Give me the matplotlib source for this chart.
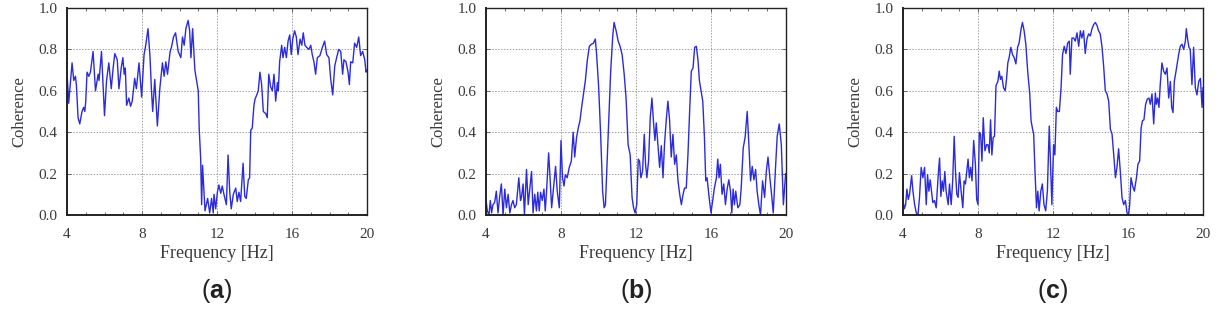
import numpy as np
import matplotlib
matplotlib.use('Agg')
import matplotlib.pyplot as plt
from matplotlib.ticker import MultipleLocator

# coherence curves (frequency in Hz, coherence)
freq_a = [4.0, 4.09, 4.27, 4.36, 4.45, 4.5, 4.59, 4.68, 4.8, 4.89, 4.95, 5.0, 5.07, 5.16, 5.25, 5.39,
          5.52, 5.66, 5.71, 5.84, 5.93, 6.0, 6.11, 6.23, 6.36, 6.46, 6.55, 6.68, 6.77, 6.89, 6.98, 7.05,
          7.11, 7.18, 7.3, 7.39, 7.48, 7.61, 7.7, 7.84, 7.98, 8.11, 8.2, 8.32, 8.43, 8.5, 8.57, 8.68,
          8.82, 8.95, 9.09, 9.18, 9.27, 9.36, 9.5, 9.57, 9.68, 9.79, 9.93, 10.07, 10.16, 10.25, 10.34,
          10.46, 10.54, 10.61, 10.7, 10.82, 10.91, 11.0, 11.05, 11.13, 11.18, 11.23, 11.36, 11.5, 11.61,
          11.71, 11.8,
          11.84, 11.93, 12.02, 12.1, 12.2, 12.28, 12.37, 12.5, 12.59, 12.68, 12.76, 12.87, 13.0, 13.08,
          13.17, 13.26, 13.39, 13.48, 13.56, 13.67, 13.74, 13.8, 13.88, 13.97, 14.03, 14.12, 14.2, 14.29,
          14.38, 14.47, 14.6, 14.68, 14.76, 14.86, 14.95, 15.04, 15.13, 15.22, 15.27, 15.34, 15.45, 15.52,
          15.61, 15.7, 15.79, 15.88, 15.96, 16.04, 16.14, 16.23, 16.32, 16.43, 16.52, 16.6, 16.69, 16.78,
          16.9, 17.0, 17.08, 17.17, 17.26, 17.35, 17.49, 17.62, 17.74, 17.85, 17.97, 18.06, 18.17, 18.28,
          18.38, 18.49, 18.6, 18.7, 18.77, 18.88, 18.99, 19.06, 19.13, 19.24, 19.34, 19.45, 19.56, 19.66,
          19.77, 19.88, 19.95, 20.0]
coh_a = [0.69, 0.54, 0.735, 0.65, 0.67, 0.63, 0.47, 0.44, 0.5, 0.52, 0.5, 0.55, 0.69, 0.67, 0.69, 0.79,
         0.6, 0.68, 0.65, 0.79, 0.61, 0.48, 0.65, 0.735, 0.61, 0.71, 0.78, 0.75, 0.61, 0.71, 0.76, 0.68,
         0.71, 0.53, 0.565, 0.525, 0.55, 0.66, 0.61, 0.735, 0.57, 0.775, 0.82, 0.9, 0.76, 0.61, 0.5, 0.655,
         0.43, 0.61, 0.735, 0.67, 0.74, 0.68, 0.79, 0.81, 0.86, 0.88, 0.79, 0.76, 0.86, 0.82, 0.9,
         0.94, 0.89, 0.76, 0.9, 0.7, 0.65, 0.6, 0.42, 0.27, 0.05, 0.24, 0.02, 0.08, 0.01,
         0.08, 0.01,
         0.1, 0.03, 0.11, 0.145, 0.105, 0.14, 0.1, 0.05, 0.29, 0.11, 0.03, 0.1, 0.13, 0.065,
         0.11, 0.065, 0.25, 0.09, 0.08, 0.17, 0.18, 0.41, 0.42, 0.53, 0.56, 0.58, 0.6, 0.69,
         0.63, 0.5, 0.49, 0.47, 0.68, 0.62, 0.6, 0.68, 0.55, 0.64, 0.6, 0.74, 0.82, 0.76,
         0.81, 0.76, 0.84, 0.87, 0.775, 0.85, 0.89, 0.86, 0.775, 0.85, 0.82, 0.88, 0.82, 0.81,
         0.8, 0.82, 0.775, 0.74, 0.68, 0.76, 0.77, 0.81, 0.84, 0.775, 0.76, 0.66, 0.58, 0.72,
         0.76, 0.8, 0.79, 0.68, 0.75, 0.74, 0.69, 0.63, 0.74, 0.735, 0.83, 0.81, 0.86, 0.77,
         0.79, 0.75, 0.69, 0.7]

freq_b = [4.0, 4.07, 4.16, 4.23, 4.3, 4.37, 4.46, 4.55, 4.64, 4.73, 4.82, 4.91, 5.0, 5.09, 5.18, 5.27,
          5.36, 5.44, 5.53, 5.62, 5.75, 5.84, 5.89, 5.98, 6.05, 6.16, 6.25, 6.34, 6.43, 6.51, 6.6, 6.69,
          6.76, 6.84, 6.91, 7.0, 7.09, 7.16, 7.23, 7.34, 7.41, 7.5, 7.62, 7.71, 7.8, 7.91, 8.0, 8.08,
          8.16, 8.23, 8.33, 8.44, 8.55, 8.65, 8.73, 8.83, 8.92, 9.01, 9.1, 9.19, 9.3, 9.4, 9.51, 9.62,
          9.73, 9.83, 9.9, 10.01, 10.12, 10.22, 10.3, 10.37, 10.44, 10.55, 10.65, 10.76, 10.83, 10.94,
          11.05, 11.15, 11.26, 11.37, 11.47, 11.58, 11.69, 11.79,
          11.87, 11.95, 12.04, 12.12, 12.19, 12.26, 12.35, 12.44, 12.51, 12.58, 12.67, 12.76, 12.85, 12.94,
          13.01, 13.08, 13.17, 13.26, 13.35, 13.44, 13.52, 13.61, 13.7, 13.79, 13.88, 13.97, 14.06, 14.15,
          14.24, 14.33, 14.42, 14.51, 14.59, 14.68, 14.77, 14.86, 14.95, 15.04, 15.13, 15.22, 15.31, 15.38,
          15.47, 15.56, 15.65, 15.72, 15.79, 15.9, 16.0, 16.09, 16.18, 16.29, 16.36, 16.43, 16.5, 16.59,
          16.68, 16.77, 16.86, 16.95, 17.04, 17.11, 17.18, 17.25, 17.32, 17.43, 17.54, 17.61, 17.72, 17.82,
          17.93, 18.02, 18.11, 18.2, 18.29, 18.38, 18.46, 18.55, 18.64, 18.75, 18.86, 18.95, 19.04, 19.14,
          19.23, 19.32, 19.43, 19.53, 19.64, 19.75, 19.86, 19.98]
coh_b = [0.075, 0.02, 0.0, 0.07, 0.01, 0.05, 0.06, 0.115, 0.01, 0.09, 0.15, 0.0, 0.125, 0.035, 0.1, 0.01,
         0.05, 0.07, 0.035, 0.05, 0.18, 0.07, 0.085, 0.15, 0.0, 0.22, 0.05, 0.13, 0.21, 0.01, 0.1, 0.02,
         0.11, 0.02, 0.11, 0.07, 0.125, 0.02, 0.115, 0.3, 0.19, 0.035, 0.15, 0.235, 0.115, 0.035, 0.36, 0.18,
         0.14, 0.195, 0.18, 0.23, 0.26, 0.4, 0.28, 0.375, 0.42, 0.455, 0.52, 0.58, 0.65, 0.745, 0.815, 0.825,
         0.83, 0.85, 0.775, 0.615, 0.375, 0.115, 0.035, 0.05, 0.21, 0.47, 0.695, 0.865, 0.93, 0.89,
         0.84, 0.815, 0.775, 0.68, 0.565, 0.34, 0.29, 0.085,
         0.035, 0.01, 0.05, 0.27, 0.26, 0.18, 0.21, 0.39, 0.245, 0.18, 0.26, 0.47, 0.565, 0.44,
         0.36, 0.445, 0.34, 0.23, 0.335, 0.18, 0.34, 0.455, 0.55, 0.46, 0.28, 0.39, 0.245, 0.29,
         0.165, 0.1, 0.05, 0.1, 0.13, 0.13, 0.29, 0.5, 0.695, 0.71, 0.81, 0.815, 0.745, 0.65,
         0.6, 0.55, 0.375, 0.165, 0.18, 0.085, 0.01, 0.07, 0.13, 0.18, 0.27, 0.18, 0.245, 0.1,
         0.15, 0.05, 0.125, 0.17, 0.115, 0.01, 0.125, 0.05, 0.115, 0.035, 0.05, 0.13, 0.325, 0.375,
         0.5, 0.34, 0.165, 0.235, 0.17, 0.22, 0.115, 0.05, 0.0, 0.165, 0.085, 0.21, 0.28, 0.18,
         0.1, 0.01, 0.21, 0.38, 0.44, 0.34, 0.05, 0.2]

freq_c = [4.0, 4.07, 4.14, 4.21, 4.28, 4.35, 4.46, 4.53, 4.62, 4.71, 4.8, 4.88, 4.97, 5.06, 5.15, 5.24,
          5.31, 5.38, 5.45, 5.52, 5.59, 5.68, 5.77, 5.88, 5.95, 6.02, 6.09, 6.16, 6.23, 6.3, 6.41, 6.48,
          6.57, 6.65, 6.73, 6.8, 6.87, 6.94, 7.01, 7.1, 7.19, 7.26, 7.33, 7.4, 7.47, 7.54, 7.61, 7.68,
          7.77, 7.86, 7.93, 8.0, 8.07, 8.14, 8.21, 8.28, 8.37, 8.46, 8.53, 8.6, 8.67, 8.74, 8.81, 8.88,
          8.96, 9.06, 9.13, 9.2, 9.27, 9.36, 9.45, 9.52, 9.59, 9.66, 9.75, 9.84, 9.93, 10.02, 10.11, 10.19,
          10.3, 10.37, 10.46, 10.55, 10.65, 10.76, 10.83, 10.9, 10.97, 11.04, 11.12, 11.19, 11.26, 11.35,
          11.43, 11.52, 11.61, 11.7, 11.8, 11.94,
          12.03, 12.1, 12.18, 12.25, 12.34, 12.43, 12.51, 12.6, 12.69, 12.78, 12.87, 12.92, 13.01, 13.1,
          13.19, 13.28, 13.37, 13.46, 13.54, 13.63, 13.72, 13.81, 13.9, 13.99, 14.08, 14.17, 14.26, 14.35,
          14.43, 14.52, 14.61, 14.7, 14.79, 14.88, 14.97, 15.06, 15.15, 15.24, 15.33, 15.41, 15.5, 15.59,
          15.68, 15.77, 15.86, 15.95, 16.03, 16.09, 16.16, 16.25, 16.34, 16.45, 16.53, 16.62, 16.7, 16.77,
          16.85, 16.94, 17.03, 17.12, 17.19, 17.28, 17.37, 17.46, 17.51, 17.58, 17.65, 17.72, 17.81, 17.9,
          17.99, 18.08, 18.17, 18.26, 18.33, 18.4, 18.47, 18.58, 18.7, 18.79, 18.88, 18.97, 19.06, 19.11,
          19.18, 19.25, 19.32, 19.41, 19.5, 19.59, 19.68, 19.77, 19.86, 19.95, 20.0]
coh_c = [0.07, 0.03, 0.05, 0.125, 0.075, 0.1, 0.19, 0.115, 0.05, 0.01, 0.0, 0.085, 0.23, 0.18, 0.23, 0.05,
         0.195, 0.115, 0.17, 0.115, 0.06, 0.07, 0.035, 0.195, 0.275, 0.09, 0.165, 0.115, 0.21, 0.115, 0.05, 0.15,
         0.05, 0.165, 0.38, 0.21, 0.1, 0.085, 0.205, 0.115, 0.035, 0.165, 0.15, 0.21, 0.27, 0.18, 0.23, 0.165,
         0.36, 0.245, 0.075, 0.05, 0.4, 0.39, 0.26, 0.47, 0.31, 0.34, 0.34, 0.3, 0.46, 0.29, 0.375, 0.38,
         0.625, 0.645, 0.695, 0.655, 0.67, 0.615, 0.6, 0.655, 0.735, 0.76, 0.81, 0.775, 0.76, 0.73, 0.81, 0.83,
         0.9, 0.93, 0.89, 0.825, 0.695, 0.585, 0.455, 0.42, 0.39, 0.21, 0.035, 0.115, 0.02, 0.115,
         0.15, 0.05, 0.02, 0.115, 0.43, 0.05,
         0.34, 0.29, 0.52, 0.5, 0.5, 0.615, 0.775, 0.815, 0.78, 0.83, 0.84, 0.68, 0.855, 0.855,
         0.84, 0.88, 0.815, 0.89, 0.855, 0.89, 0.78, 0.85, 0.875, 0.865, 0.9, 0.92, 0.93, 0.915,
         0.89, 0.875, 0.815, 0.72, 0.6, 0.585, 0.55, 0.415, 0.39, 0.29, 0.18, 0.23, 0.32, 0.21,
         0.085, 0.05, 0.07, 0.01, 0.0, 0.05, 0.18, 0.14, 0.115, 0.18, 0.245, 0.26, 0.42, 0.455,
         0.46, 0.535, 0.56, 0.565, 0.535, 0.585, 0.44, 0.59, 0.535, 0.565, 0.52, 0.63, 0.735, 0.695,
         0.68, 0.71, 0.565, 0.645, 0.52, 0.495, 0.645, 0.705, 0.775, 0.815, 0.825, 0.8, 0.84, 0.9,
         0.85, 0.81, 0.8, 0.63, 0.81, 0.615, 0.58, 0.645, 0.66, 0.52, 0.615]

panels = [(freq_a, coh_a, 'a'), (freq_b, coh_b, 'b'), (freq_c, coh_c, 'c')]
lefts = [67, 486, 903]

plt.rcParams['font.family'] = ['Liberation Serif', 'DejaVu Serif']
plt.rcParams['mathtext.fontset'] = 'custom'
plt.rcParams['mathtext.bf'] = 'Liberation Sans:bold'

W, H = 1225, 319
fig = plt.figure(figsize=(W / 100, H / 100), dpi=100)
txt = '#3a3a3a'

for (f, c, tag), lx in zip(panels, lefts):
    ax = fig.add_axes([lx / W, (H - 215) / H, 300 / W, 207 / H])
    ax.plot(f, c, color='#2b2bdc', lw=1.0)
    ax.set_xlim(4, 20)
    ax.set_ylim(0, 1)
    ax.set_xticks([4, 8, 12, 16, 20])
    ax.set_yticks(np.arange(0, 1.01, 0.2))
    ax.set_yticklabels(['%.1f' % v for v in np.arange(0, 1.01, 0.2)])
    ax.xaxis.set_minor_locator(MultipleLocator(1))
    ax.grid(True, color='#a0a0a0', linestyle=(0, (1.5, 1.5)), linewidth=0.7)
    ax.tick_params(which='both', direction='in', top=True, right=True, colors='#555555',
                   labelcolor=txt, labelsize=11)
    ax.tick_params(which='major', length=3, width=0.6)
    ax.tick_params(which='minor', length=2, width=0.6)
    ax.tick_params(axis='x', pad=9)
    ax.tick_params(axis='y', pad=7)
    for s in ax.spines.values():
        s.set_color('#222222')
        s.set_linewidth(1.0)
    ax.spines['bottom'].set_linewidth(1.4)
    ax.spines['left'].set_linewidth(1.4)
    ax.set_xlabel('Frequency [Hz]', fontsize=13, color=txt, labelpad=3)
    ax.set_ylabel('Coherence', fontsize=12, color=txt, labelpad=8)
    fig.text((lx + 150) / W, 1 - 291 / H, r'($\mathbf{%s}$)' % tag, ha='center', va='center',
             fontsize=18, color='#222222', family='Liberation Sans')

fig.savefig('out.png', dpi=100, facecolor='white')
